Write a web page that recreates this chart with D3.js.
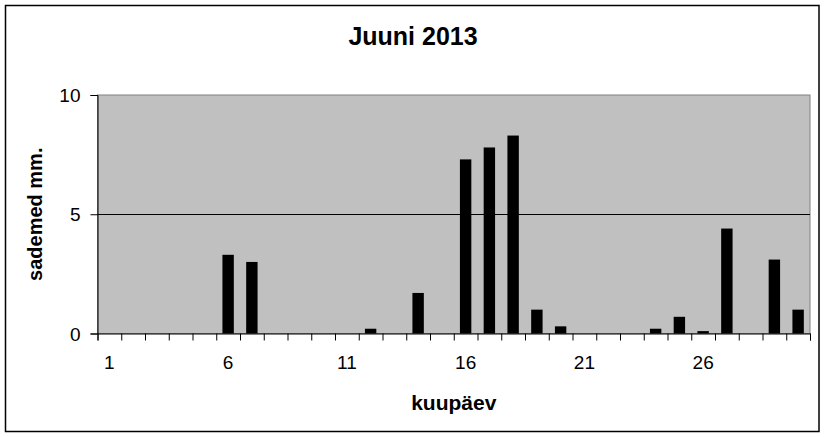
<!DOCTYPE html>
<html>
<head>
<meta charset="utf-8">
<script src="https://d3js.org/d3.v7.min.js"></script>
<style>
  body { margin: 0; background: #fff; }
  text { font-family: "Liberation Sans", Arial, sans-serif; fill: #000; }
</style>
</head>
<body>
<div id="chart"></div>
<script>
// precipitation per day, June 2013
const days = d3.range(1, 31);
const rain = [0, 0, 0, 0, 0, 3.3, 3.0, 0, 0, 0,
              0, 0.2, 0, 1.7, 0, 7.3, 7.8, 8.3, 1.0, 0.3,
              0, 0, 0, 0.2, 0.7, 0.1, 4.4, 0, 3.1, 1.0];
const dayLabels = [1, 6, 11, 16, 21, 26];
const yTicks = [0, 5, 10];

const W = 825, H = 437;
const plot = { left: 97.5, right: 810, top: 95, bottom: 333.5 };

const svg = d3.select("#chart").append("svg")
  .attr("width", W).attr("height", H);

// outer frame
svg.append("rect")
  .attr("x", 5.5).attr("y", 5.5)
  .attr("width", 813.5).attr("height", 426)
  .attr("fill", "#fff").attr("stroke", "#000").attr("stroke-width", 1.5);

const x = d3.scaleBand()
  .domain(days)
  .range([plot.left, plot.right])
  .paddingInner(0.52)
  .paddingOuter(0.26);

// boundaries between days, for the small tick marks
const xEdge = d3.scaleLinear()
  .domain([0.5, 30.5])
  .range([plot.left, plot.right]);

const y = d3.scaleLinear()
  .domain([0, 10])
  .range([plot.bottom, plot.top]);

// plot background
svg.append("rect")
  .attr("x", plot.left).attr("y", plot.top)
  .attr("width", plot.right - plot.left)
  .attr("height", plot.bottom - plot.top)
  .attr("fill", "#c0c0c0")
  .attr("stroke", "#808080");

// gridline at 5
svg.append("line")
  .attr("x1", plot.left).attr("x2", plot.right)
  .attr("y1", Math.round(y(5)) + 0.5).attr("y2", Math.round(y(5)) + 0.5)
  .attr("stroke", "#000");

// bars
svg.append("g")
  .selectAll("rect")
  .data(days)
  .join("rect")
  .attr("x", d => x(d))
  .attr("width", x.bandwidth())
  .attr("y", (d, i) => y(rain[i]))
  .attr("height", (d, i) => y(0) - y(rain[i]))
  .attr("fill", "#000");

// y axis
const yAxis = svg.append("g")
  .attr("transform", `translate(${plot.left},0)`)
  .call(d3.axisLeft(y).tickValues(yTicks).tickSize(7).tickPadding(10));
yAxis.select(".domain").attr("stroke", "#000");
yAxis.selectAll("text").style("font-size", "19px").attr("dy", "0.35em");

// x axis tick marks at day boundaries
const xTicks = svg.append("g")
  .attr("transform", `translate(0,${plot.bottom})`)
  .call(d3.axisBottom(xEdge).tickValues(d3.range(0.5, 31, 1)).tickSize(7).tickFormat(""));
xTicks.select(".domain").attr("stroke", "#000");

// x labels
const xLab = svg.append("g")
  .attr("transform", `translate(0,${plot.bottom})`)
  .call(d3.axisBottom(x).tickValues(dayLabels).tickSize(0).tickPadding(22));
xLab.select(".domain").remove();
xLab.selectAll("text").style("font-size", "19px");

// titles
svg.append("text")
  .attr("x", 413).attr("y", 45)
  .attr("text-anchor", "middle")
  .style("font-size", "25px").style("font-weight", "bold")
  .text("Juuni 2013");

svg.append("text")
  .attr("x", (plot.left + plot.right) / 2).attr("y", 410)
  .attr("text-anchor", "middle")
  .style("font-size", "21px").style("font-weight", "bold")
  .text("kuupäev");

svg.append("text")
  .attr("transform", `translate(42,${(plot.top + plot.bottom) / 2}) rotate(-90)`)
  .attr("text-anchor", "middle")
  .style("font-size", "20px").style("font-weight", "bold")
  .text("sademed mm.");
</script>
</body>
</html>
